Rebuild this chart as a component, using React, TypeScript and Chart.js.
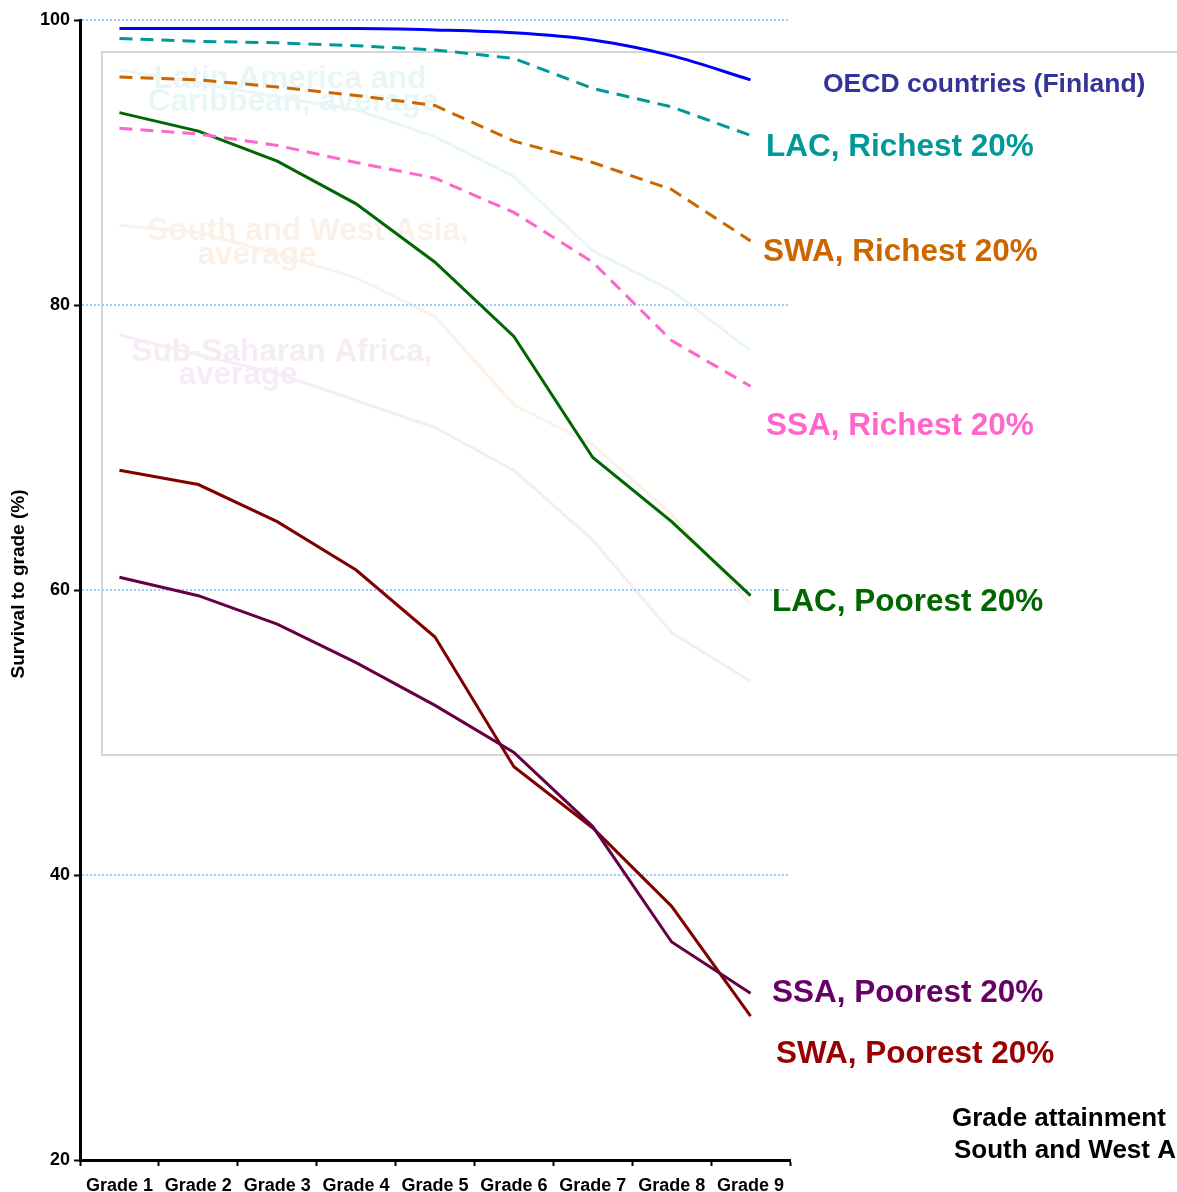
import React, { useEffect, useRef } from "react";
import { Chart, registerables } from "chart.js";

Chart.register(...registerables);

// ---------- data ----------
const grades = ["Grade 1", "Grade 2", "Grade 3", "Grade 4", "Grade 5", "Grade 6", "Grade 7", "Grade 8", "Grade 9"];
const oecdFinland = [99.4, 99.4, 99.4, 99.4, 99.3, 99.1, 98.6, 97.5, 95.8];
const lacRichest = [98.7, 98.5, 98.4, 98.2, 97.9, 97.3, 95.2, 93.9, 91.9];
const swaRichest = [96.0, 95.8, 95.3, 94.7, 94.0, 91.5, 90.0, 88.1, 84.5];
const ssaRichest = [92.4, 92.0, 91.2, 90.0, 88.9, 86.5, 83.0, 77.5, 74.3];
const lacPoorest = [93.5, 92.2, 90.1, 87.1, 83.0, 77.8, 69.3, 64.8, 59.6];
const ssaPoorest = [60.9, 59.6, 57.6, 54.9, 51.9, 48.6, 43.4, 35.3, 31.7];
const swaPoorest = [68.4, 67.4, 64.8, 61.4, 56.7, 47.6, 43.3, 37.8, 30.1];
const lacAverage = [96.5, 95.6, 94.6, 93.7, 91.8, 89.0, 83.8, 81.0, 76.8];
const swaAverage = [85.6, 85.1, 83.6, 81.9, 79.2, 73.0, 70.2, 65.3, 59.0];
const ssaAverage = [77.9, 76.5, 75.2, 73.3, 71.4, 68.4, 63.5, 57.0, 53.6];
const gridValues = [40, 60, 80, 100];
const yMin = 20;
const yMax = 100;

const FONT = "'Liberation Sans', Arial, sans-serif";

// text annotations (position styles kept separate from data)
const seriesLabels = [
  { text: "OECD countries (Finland)", color: "#333399", x: 823, y: 85, size: 26.5 },
  { text: "LAC, Richest 20%", color: "#009999", x: 766, y: 147, size: 31.5 },
  { text: "SWA, Richest 20%", color: "#CC6600", x: 763, y: 252, size: 31.5 },
  { text: "SSA, Richest 20%", color: "#FF66CC", x: 766, y: 426, size: 31.5 },
  { text: "LAC, Poorest 20%", color: "#006600", x: 772, y: 602, size: 31.5 },
  { text: "SSA, Poorest 20%", color: "#660066", x: 772, y: 993, size: 31.5 },
  { text: "SWA, Poorest 20%", color: "#990000", x: 776, y: 1054, size: 31.5 },
  { text: "Grade attainment", color: "#000000", x: 952, y: 1119, size: 26 },
  { text: "South and West Asia", color: "#000000", x: 954, y: 1151, size: 26 },
];

const averageLabels = [
  { text: "Latin America and", color: "#009999", x: 290, y: 79 },
  { text: "Caribbean, average", color: "#009999", x: 293, y: 102 },
  { text: "South and West Asia,", color: "#CC6600", x: 308, y: 231 },
  { text: "average", color: "#CC6600", x: 257, y: 255 },
  { text: "Sub-Saharan Africa,", color: "#993399", x: 282, y: 352 },
  { text: "average", color: "#993399", x: 238, y: 375 },
];

const overlayPlugin = {
  id: "overlayPlugin",
  beforeDatasetsDraw(chart: any) {
    const ctx = chart.ctx;
    ctx.save();
    ctx.font = `bold 31.5px ${FONT}`;
    ctx.textAlign = "center";
    ctx.textBaseline = "middle";
    for (const l of averageLabels) {
      ctx.fillStyle = l.color;
      ctx.fillText(l.text, l.x, l.y);
    }
    ctx.restore();
  },
  afterDatasetDraw(chart: any, args: any) {
    if (args.index !== 7) return;
    const ctx = chart.ctx;
    const ys = chart.scales.y;
    const area = chart.chartArea;
    const top = ys.getPixelForValue(97.75);
    const bottom = ys.getPixelForValue(48.42);
    const left = area.left + 22;
    const right = chart.width + 20;
    ctx.save();
    ctx.fillStyle = "rgba(255,255,255,0.91)";
    ctx.fillRect(left, top, right - left, bottom - top);
    ctx.strokeStyle = "#c8c8c8";
    ctx.lineWidth = 1.5;
    ctx.strokeRect(left, top, right - left, bottom - top);
    // dotted grid lines
    ctx.strokeStyle = "#99CCFF";
    ctx.lineWidth = 2;
    ctx.setLineDash([2, 2]);
    for (const v of gridValues) {
      const y = Math.round(ys.getPixelForValue(v));
      ctx.beginPath();
      ctx.moveTo(area.left + 2, y);
      ctx.lineTo(area.right, y);
      ctx.stroke();
    }
    ctx.restore();
  },
  afterDatasetsDraw(chart: any) {
    const ctx = chart.ctx;
    ctx.save();
    ctx.textAlign = "left";
    ctx.textBaseline = "middle";
    for (const l of seriesLabels) {
      ctx.font = `bold ${l.size}px ${FONT}`;
      ctx.fillStyle = l.color;
      ctx.fillText(l.text, l.x, l.y);
    }
    // y axis title
    ctx.translate(19, 584);
    ctx.rotate(-Math.PI / 2);
    ctx.textAlign = "center";
    ctx.font = `bold 19px ${FONT}`;
    ctx.fillStyle = "#000";
    ctx.fillText("Survival to grade (%)", 0, 0);
    ctx.restore();
  },
};

export default function App() {
  const ref = useRef<HTMLCanvasElement | null>(null);

  useEffect(() => {
    document.body.style.margin = "0";
    const canvas = ref.current;
    if (!canvas) return;
    const solid = (label: string, data: number[], color: string, extra: any = {}) => ({
      label,
      data,
      borderColor: color,
      backgroundColor: color,
      borderWidth: 3,
      pointRadius: 0,
      tension: 0,
      fill: false,
      ...extra,
    });
    const chart = new Chart(canvas, {
      type: "line",
      data: {
        labels: grades,
        datasets: [
          solid("OECD countries (Finland)", oecdFinland, "#0000FF", { cubicInterpolationMode: "monotone" }),
          solid("LAC, Richest 20%", lacRichest, "#009999", { borderDash: [13, 8] }),
          solid("SWA, Richest 20%", swaRichest, "#CC6600", { borderDash: [13, 8] }),
          solid("SSA, Richest 20%", ssaRichest, "#FF66CC", { borderDash: [13, 8] }),
          solid("LAC, Poorest 20%", lacPoorest, "#006600"),
          solid("SSA, Poorest 20%", ssaPoorest, "#660044"),
          solid("SWA, Poorest 20%", swaPoorest, "#800000"),
          solid("Latin America and Caribbean, average", lacAverage, "#009999"),
          solid("South and West Asia, average", swaAverage, "#CC6600"),
          solid("Sub-Saharan Africa, average", ssaAverage, "#993399"),
        ],
      },
      options: {
        responsive: false,
        animation: false,
        maintainAspectRatio: false,
        layout: { padding: { top: 20, right: 387, left: 0, bottom: 0 } },
        plugins: {
          legend: { display: false },
          tooltip: { enabled: false },
          title: { display: false },
        },
        scales: {
          x: {
            type: "category",
            offset: true,
            grid: {
              display: true,
              drawOnChartArea: false,
              drawTicks: true,
              tickLength: 6,
              tickWidth: 2,
              tickColor: "#000",
              offset: true,
            },
            border: { display: true, color: "#000", width: 3 },
            ticks: {
              color: "#000",
              font: { family: FONT, size: 18, weight: "bold" },
              padding: 9,
              maxRotation: 0,
              autoSkip: false,
            },
            afterFit: (s: any) => {
              s.height = 32;
            },
          },
          y: {
            min: yMin,
            max: yMax,
            grid: {
              display: true,
              drawOnChartArea: false,
              drawTicks: true,
              tickLength: 6,
              tickWidth: 2,
              tickColor: "#000",
            },
            border: { display: true, color: "#000", width: 3 },
            ticks: {
              stepSize: 20,
              color: "#000",
              font: { family: FONT, size: 18, weight: "bold" },
              padding: 4,
            },
            afterFit: (s: any) => {
              s.width = 80;
            },
          },
        },
      } as any,
      plugins: [overlayPlugin],
    });
    return () => chart.destroy();
  }, []);

  return (
    <div style={{ position: "absolute", left: 0, top: 0, width: 1177, height: 1192, background: "#fff" }}>
      <canvas ref={ref} width={1177} height={1192} style={{ width: 1177, height: 1192, display: "block" }} />
    </div>
  );
}
